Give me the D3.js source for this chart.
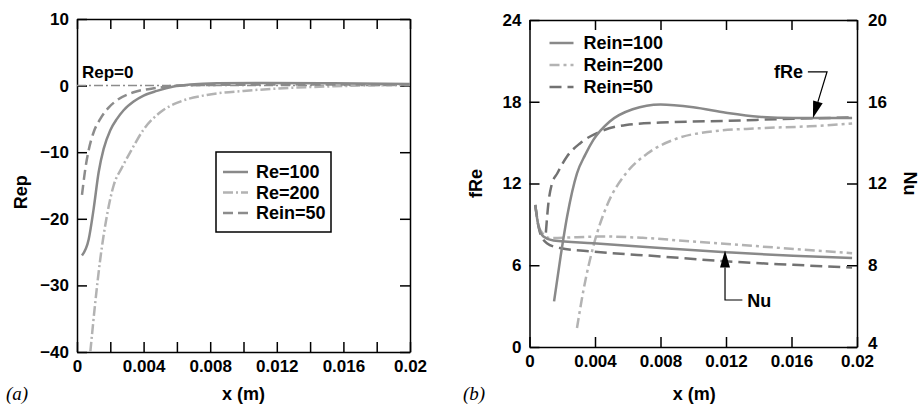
<!DOCTYPE html>
<html>
<head>
<meta charset="utf-8">
<script src="https://cdn.jsdelivr.net/npm/d3@7"></script>
<style>
  body { margin: 0; background: #fff; }
  svg { display: block; }
  text { font-family: "Liberation Sans", Arial, sans-serif; font-weight: bold; fill: #000; }
  .axis text { font-size: 17px; }
  .axis path, .axis line { stroke: #000; stroke-width: 1.5; }
  .panel-tag { font-family: "Liberation Serif", "DejaVu Serif", serif; font-style: italic; font-weight: normal; font-size: 19px; }
</style>
</head>
<body>
<div id="chart"></div>
<script>
// ---- panel (a): Rep vs x ----
const rep100X = [0.0003, 0.0007, 0.001, 0.0013, 0.0016, 0.002, 0.0024, 0.0028, 0.0034, 0.004, 0.0048, 0.0058, 0.0068, 0.0084, 0.0114, 0.0154, 0.02];
const rep100  = [-25.5, -23.1, -18.5, -13, -9.5, -6.7, -5.0, -3.7, -2.4, -1.5, -0.8, -0.15, 0.15, 0.35, 0.4, 0.35, 0.25];

const rep200X = [0.0008, 0.0011, 0.0014, 0.0018, 0.0022, 0.0027, 0.0032, 0.004, 0.005, 0.0062, 0.0078, 0.01, 0.0124, 0.0154, 0.02];
const rep200  = [-40, -32.5, -26, -19.5, -15, -12.3, -10.0, -6.6, -4.0, -2.4, -1.4, -0.8, -0.4, -0.1, 0.1];

const rep50X = [0.0003, 0.0005, 0.0007, 0.001, 0.0014, 0.0019, 0.0024, 0.0034, 0.0048, 0.006, 0.008, 0.012, 0.016, 0.02];
const rep50  = [-16.4, -12.5, -9.7, -7, -5, -3.3, -2.2, -1.0, -0.35, 0, 0.1, 0.15, 0.15, 0.15];

const legendA = ["Re=100", "Re=200", "Rein=50"];

// ---- panel (b): fRe (left axis) and Nu (right axis) vs x ----
const f100X = [0.0015, 0.0019, 0.0023, 0.0029, 0.0034, 0.0039, 0.0049, 0.0063, 0.008, 0.01, 0.012, 0.014, 0.0161, 0.0175, 0.0197];
const f100  = [3.35, 6.65, 9.6, 12.75, 14.1, 15.2, 16.55, 17.45, 17.8, 17.6, 17.2, 16.9, 16.8, 16.8, 16.8];

const f200X = [0.0029, 0.0033, 0.0039, 0.0047, 0.0059, 0.0072, 0.009, 0.011, 0.014, 0.0171, 0.0197];
const f200  = [1.4, 4.2, 7.4, 10.3, 12.75, 14.2, 15.3, 15.8, 16.05, 16.2, 16.4];

const f50X = [0.001, 0.00115, 0.00135, 0.0017, 0.0023, 0.0031, 0.0043, 0.0059, 0.008, 0.012, 0.0161, 0.0197];
const f50  = [8.4, 10.5, 11.9, 12.75, 14, 14.96, 15.8, 16.3, 16.47, 16.6, 16.75, 16.85];

const nu100X = [0.00035, 0.00055, 0.00085, 0.00146, 0.0039, 0.008, 0.012, 0.0161, 0.0197];
const nu100  = [10.95, 9.9, 9.41, 9.21, 9.08, 8.84, 8.64, 8.46, 8.35];

const nu200X = [0.00035, 0.00065, 0.00126, 0.00289, 0.0045, 0.0069, 0.01, 0.0141, 0.0197];
const nu200  = [10.95, 9.73, 9.33, 9.37, 9.41, 9.34, 9.16, 8.92, 8.59];

const nu50X = [0.00035, 0.00065, 0.00106, 0.00187, 0.0039, 0.008, 0.012, 0.0161, 0.0197];
const nu50  = [10.95, 9.57, 9.08, 8.84, 8.67, 8.43, 8.19, 8.02, 7.89];

const legendB = ["Rein=100", "Rein=200", "Rein=50"];

// tick values
const xTicksA = d3.range(0, 11).map(i => i * 0.002);
const xTicksB = d3.range(0, 6).map(i => i * 0.004);
const repTicks = [-40, -30, -20, -10, 0, 10];
const fReTicks = [0, 6, 12, 18, 24];
const nuTicks = [4, 8, 12, 16, 20];

// line styles
const styles = {
  s100: { color: "#898989", dash: null },
  s200: { color: "#b3b3b3", dash: "10,3,2,3" },
  s50a: { color: "#8c8c8c", dash: "10,5" },
  s200b: { color: "#b3b3b3", dash: "10,4,3,4" },
  s50b: { color: "#727272", dash: "12,6" }
};

const width = 921, height = 408;
const svg = d3.select("#chart").append("svg")
  .attr("width", width)
  .attr("height", height);

const zip = (xs, ys) => xs.map((x, i) => ({ x: x, y: ys[i] }));
const fmtX = v => String(+v.toFixed(3));

function frame(g, x, h, xTicks, labelEvery) {
  g.append("g").attr("class", "axis")
    .attr("transform", "translate(0," + h + ")")
    .call(d3.axisBottom(x).tickValues(xTicks).tickSizeInner(-10).tickSizeOuter(0).tickPadding(8)
      .tickFormat((v, i) => (i % labelEvery === 0) ? fmtX(v) : ""));
  g.append("g").attr("class", "axis")
    .call(d3.axisTop(x).tickValues(xTicks).tickSizeInner(-10).tickSizeOuter(0).tickFormat(""));
}

// ================= panel (a) =================
const mA = { left: 77, top: 19 };
const wA = 333, hA = 333;
const gA = svg.append("g").attr("transform", "translate(" + mA.left + "," + mA.top + ")");

const xA = d3.scaleLinear().domain([0, 0.02]).range([0, wA]);
const yA = d3.scaleLinear().domain([-40, 10]).range([hA, 0]);

frame(gA, xA, hA, xTicksA, 2);
gA.append("g").attr("class", "axis")
  .call(d3.axisLeft(yA).tickValues(repTicks).tickSizeInner(-10).tickSizeOuter(0).tickPadding(8));
gA.append("g").attr("class", "axis")
  .attr("transform", "translate(" + wA + ",0)")
  .call(d3.axisRight(yA).tickValues(repTicks).tickSizeInner(-10).tickSizeOuter(0).tickFormat(""));

const lineA = d3.line().x(d => xA(d.x)).y(d => yA(d.y)).curve(d3.curveMonotoneX);

// Rep=0 reference line
gA.append("line")
  .attr("x1", xA(0)).attr("x2", xA(0.02))
  .attr("y1", yA(0)).attr("y2", yA(0))
  .attr("stroke", "#8c8c8c").attr("stroke-width", 1.5)
  .attr("stroke-dasharray", "9,3,2,3");
gA.append("text")
  .attr("x", xA(0.0003)).attr("y", yA(0) - 8)
  .style("font-size", "17px")
  .text("Rep=0");

const seriesA = [
  { data: zip(rep200X, rep200), st: styles.s200 },
  { data: zip(rep50X, rep50), st: styles.s50a },
  { data: zip(rep100X, rep100), st: styles.s100 }
];
seriesA.forEach(s => {
  gA.append("path")
    .datum(s.data)
    .attr("d", lineA)
    .attr("fill", "none")
    .attr("stroke", s.st.color)
    .attr("stroke-width", 2.5)
    .attr("stroke-dasharray", s.st.dash);
});

// legend (a)
const legA = gA.append("g").attr("transform", "translate(" + (216 - mA.left) + "," + (152 - mA.top) + ")");
legA.append("rect")
  .attr("width", 115).attr("height", 80)
  .attr("fill", "#fff").attr("stroke", "#000").attr("stroke-width", 1.5);
[styles.s100, styles.s200, styles.s50a].forEach((st, i) => {
  const yy = 20 + i * 20.5;
  legA.append("line")
    .attr("x1", 7).attr("x2", 32).attr("y1", yy).attr("y2", yy)
    .attr("stroke", st.color).attr("stroke-width", 2.5)
    .attr("stroke-dasharray", st.dash);
  legA.append("text")
    .attr("x", 40).attr("y", yy + 6)
    .style("font-size", "18px")
    .text(legendA[i]);
});

// axis titles (a)
svg.append("text")
  .attr("transform", "translate(27," + (mA.top + yA(-16)) + ") rotate(-90)")
  .attr("text-anchor", "middle")
  .style("font-size", "18px")
  .text("Rep");
svg.append("text")
  .attr("x", mA.left + wA / 2).attr("y", 400)
  .attr("text-anchor", "middle")
  .style("font-size", "18px")
  .text("x (m)");
svg.append("text").attr("class", "panel-tag")
  .attr("x", 6).attr("y", 400).text("(a)");

// ================= panel (b) =================
const mB = { left: 529.5, top: 20 };
const wB = 327.5, hB = 327;
const gB = svg.append("g").attr("transform", "translate(" + mB.left + "," + mB.top + ")");

const xB = d3.scaleLinear().domain([0, 0.02]).range([0, wB]);
const yF = d3.scaleLinear().domain([0, 24]).range([hB, 0]);
const yN = d3.scaleLinear().domain([4, 20]).range([hB, 0]);

frame(gB, xB, hB, xTicksB, 1);
gB.append("g").attr("class", "axis")
  .call(d3.axisLeft(yF).tickValues(fReTicks).tickSizeInner(-10).tickSizeOuter(0).tickPadding(8));
const nuAxis = gB.append("g").attr("class", "axis")
  .attr("transform", "translate(" + wB + ",0)")
  .call(d3.axisRight(yN).tickValues(nuTicks).tickSizeInner(-10).tickSizeOuter(0).tickPadding(11));
// lowest Nu label sits a little higher, as in the original
nuAxis.selectAll(".tick text").filter(d => d === 4).attr("dy", "0.1em");

const lineF = d3.line().x(d => xB(d.x)).y(d => yF(d.y)).curve(d3.curveMonotoneX);
const lineN = d3.line().x(d => xB(d.x)).y(d => yN(d.y)).curve(d3.curveMonotoneX);

const seriesB = [
  { data: zip(f200X, f200), st: styles.s200b, line: lineF },
  { data: zip(nu200X, nu200), st: styles.s200b, line: lineN },
  { data: zip(f50X, f50), st: styles.s50b, line: lineF },
  { data: zip(nu50X, nu50), st: styles.s50b, line: lineN },
  { data: zip(f100X, f100), st: styles.s100, line: lineF },
  { data: zip(nu100X, nu100), st: styles.s100, line: lineN }
];
seriesB.forEach(s => {
  gB.append("path")
    .datum(s.data)
    .attr("d", s.line)
    .attr("fill", "none")
    .attr("stroke", s.st.color)
    .attr("stroke-width", 2.5)
    .attr("stroke-dasharray", s.st.dash);
});

// legend (b)
[styles.s100, styles.s200b, styles.s50b].forEach((st, i) => {
  const yy = 23 + i * 22;
  gB.append("line")
    .attr("x1", 20).attr("x2", 44).attr("y1", yy).attr("y2", yy)
    .attr("stroke", st.color).attr("stroke-width", 2.5)
    .attr("stroke-dasharray", st.dash);
  gB.append("text")
    .attr("x", 54).attr("y", yy + 6)
    .style("font-size", "18px")
    .text(legendB[i]);
});

// annotations with arrows
function arrow(g, pts) {
  const tip = pts[pts.length - 1], prev = pts[pts.length - 2];
  const ang = Math.atan2(tip[1] - prev[1], tip[0] - prev[0]);
  const len = 17, half = 5;
  const bx = tip[0] - len * Math.cos(ang), by = tip[1] - len * Math.sin(ang);
  g.append("path")
    .attr("d", d3.line()(pts.slice(0, -1).concat([[bx, by]])))
    .attr("fill", "none").attr("stroke", "#000").attr("stroke-width", 1.2);
  g.append("path")
    .attr("d", "M" + tip[0] + "," + tip[1] +
      "L" + (bx + half * Math.sin(ang)) + "," + (by - half * Math.cos(ang)) +
      "L" + (bx - half * Math.sin(ang)) + "," + (by + half * Math.cos(ang)) + "Z")
    .attr("fill", "#000");
}

gB.append("text")
  .attr("x", xB(0.0167)).attr("y", yF(20.2) + 6)
  .attr("text-anchor", "end")
  .style("font-size", "18px")
  .text("fRe");
arrow(gB, [[xB(0.0170), yF(20.2)], [xB(0.01817), yF(20.2)], [xB(0.01731), yF(16.8)]]);

gB.append("text")
  .attr("x", xB(0.0133)).attr("y", yN(6.3) + 7)
  .style("font-size", "18px")
  .text("Nu");
arrow(gB, [[xB(0.0130), yN(6.3)], [xB(0.01194), yN(6.3)], [xB(0.01194), yN(8.72)]]);

// axis titles (b)
svg.append("text")
  .attr("transform", "translate(482," + (mB.top + yF(12)) + ") rotate(-90)")
  .attr("text-anchor", "middle")
  .style("font-size", "18px")
  .text("fRe");
svg.append("text")
  .attr("transform", "translate(904," + (mB.top + yF(12)) + ") rotate(90)")
  .attr("text-anchor", "middle")
  .style("font-size", "18px")
  .text("Nu");
svg.append("text")
  .attr("x", mB.left + xB(0.01) + 1).attr("y", 400)
  .attr("text-anchor", "middle")
  .style("font-size", "18px")
  .text("x (m)");
svg.append("text").attr("class", "panel-tag")
  .attr("x", 463).attr("y", 400).text("(b)");
</script>
</body>
</html>
